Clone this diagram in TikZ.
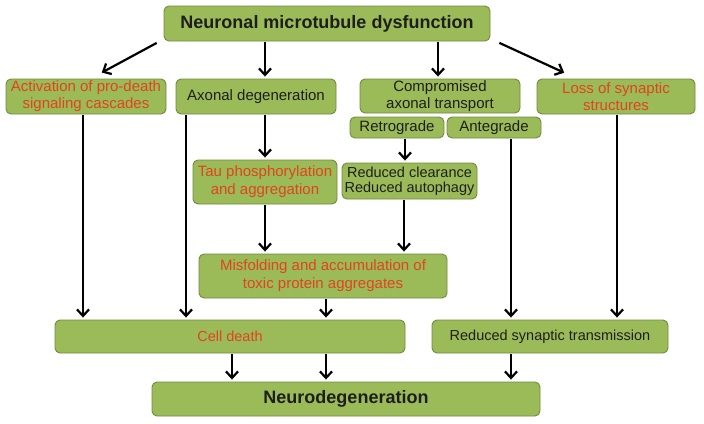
\documentclass[tikz,border=0pt]{standalone}
\usepackage{fontspec}
\setmainfont{Liberation Sans}
\usetikzlibrary{arrows.meta}
\definecolor{boxfill}{HTML}{9BBB59}
\definecolor{boxline}{HTML}{71893F}
\definecolor{redtxt}{HTML}{E2431E}
\definecolor{darktxt}{HTML}{1E1E1E}
\begin{document}
\begin{tikzpicture}[x=1pt,y=-1pt,
  box/.style={draw=boxline,fill=boxfill,line width=0.9pt,rounded corners=5pt,
    inner sep=0pt,align=center,text=darktxt,font=\fontsize{15}{17}\selectfont},
  redbox/.style={box,text=redtxt},
  tallbox/.style={font=\fontsize{15}{18}\selectfont},
  bigbox/.style={box,font=\fontsize{18}{20}\selectfont\bfseries},
  arr/.style={line width=2.2pt,-{Straight Barb[length=6.5pt,width=12pt,line width=2.2pt]},
    shorten <=1pt,shorten >=2pt}]
\useasboundingbox (0,0) rectangle (704,423);
\node[bigbox,minimum width=326pt,minimum height=35pt] (top) at (327,23.5) {Neuronal microtubule dysfunction};
\node[redbox,minimum width=160pt,minimum height=35pt] (act) at (86,96.5) {Activation of pro-death\\signaling cascades};
\node[box,minimum width=160pt,minimum height=35pt] (axon) at (256,96.5) {Axonal degeneration};
\node[box,minimum width=160pt,minimum height=34pt] (comp) at (440,96) {Compromised\\axonal transport};
\node[box,minimum width=94pt,minimum height=21pt] (retro) at (397,127.5) {Retrograde};
\node[box,minimum width=94pt,minimum height=21pt] (ante) at (494,127.5) {Antegrade};
\node[redbox,minimum width=158pt,minimum height=35pt] (loss) at (616,96.5) {Loss of synaptic\\structures};
\node[redbox,tallbox,minimum width=144pt,minimum height=44pt] (tau) at (265,182) {Tau phosphorylation\\and aggregation};
\node[box,minimum width=135pt,minimum height=36pt,font=\fontsize{14.5}{15.5}\selectfont] (redc) at (409.5,181) {Reduced clearance\\Reduced autophagy};
\node[redbox,tallbox,minimum width=248pt,minimum height=44pt] (misf) at (323,276) {Misfolding and accumulation of\\toxic protein aggregates};
\node[redbox,minimum width=350pt,minimum height=33pt,font=\fontsize{14.5}{16}\selectfont] (celld) at (230,336.5) {Cell death};
\node[box,minimum width=236pt,minimum height=33pt,font=\fontsize{14.5}{16}\selectfont] (rst) at (550,336.5) {Reduced synaptic transmission};
\node[bigbox,minimum width=388pt,minimum height=34pt] (neuro) at (346,399) {Neurodegeneration};
% arrows from top
\draw[arr] ([xshift=-6pt,yshift=-1pt]top.south west) -- ([xshift=14pt,yshift=5pt]act.north);
\draw[arr] ([xshift=-62pt]top.south) -- ([xshift=9pt]axon.north);
\draw[arr] ([xshift=111pt]top.south) -- ([xshift=-2pt]comp.north);
\draw[arr] ([xshift=8pt,yshift=-1pt]top.south east) -- ([xshift=-50pt,yshift=5pt]loss.north);
% middle
\draw[arr] ([xshift=-3pt]act.south) -- ([xshift=-147pt]celld.north);
\draw[arr] ([xshift=-70pt]axon.south) -- ([xshift=-44pt]celld.north);
\draw[arr] ([xshift=9pt]axon.south) -- (tau.north);
\draw[arr] ([xshift=8pt]retro.south) -- ([xshift=-4.5pt]redc.north);
\draw[arr] (tau.south) -- ([xshift=-58pt]misf.north);
\draw[arr] ([xshift=-5.5pt]redc.south) -- ([xshift=81pt]misf.north);
\draw[arr] ([xshift=3pt]misf.south) -- ([xshift=96pt]celld.north);
\draw[arr] ([xshift=17pt]ante.south) -- ([xshift=-39pt]rst.north);
\draw[arr] ([xshift=1pt]loss.south) -- ([xshift=67pt]rst.north);
% bottom
\draw[arr] ([xshift=2pt]celld.south) -- ([xshift=-114pt]neuro.north);
\draw[arr] ([xshift=96pt]celld.south) -- ([xshift=-20pt]neuro.north);
\draw[arr] ([xshift=-39pt]rst.south) -- ([xshift=165pt]neuro.north);
\end{tikzpicture}
\end{document}
